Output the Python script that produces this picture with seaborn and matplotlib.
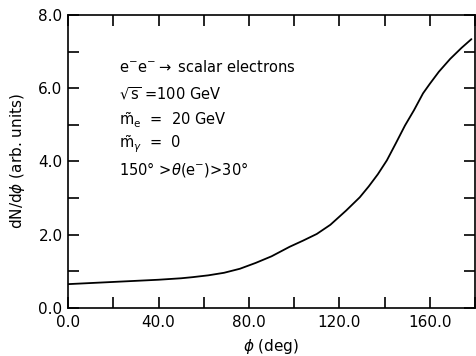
import numpy as np
import pandas as pd
import matplotlib
matplotlib.use("Agg")
import matplotlib.pyplot as plt
import seaborn as sns
from matplotlib.ticker import MultipleLocator, FormatStrFormatter

sns.set_theme(style="ticks")
plt.rcParams['font.family'] = ['DejaVu Sans']
plt.rcParams['mathtext.fontset'] = 'dejavusans'
plt.rcParams['text.color'] = 'black'
plt.rcParams['axes.labelcolor'] = 'black'
plt.rcParams['xtick.color'] = 'black'
plt.rcParams['ytick.color'] = 'black'

# data
phi = [0, 10, 20, 30, 40, 50, 55, 62, 69, 76, 83, 90, 98, 104, 110, 116, 123,
       129, 133, 137, 141, 145, 149, 153, 157, 160, 164, 169, 174, 178.4]
dn_dphi = [0.65, 0.68, 0.71, 0.74, 0.77, 0.81, 0.84, 0.89, 0.96, 1.07, 1.23, 1.41, 1.67, 1.84, 2.02, 2.27, 2.66,
           3.02, 3.32, 3.65, 4.03, 4.50, 4.98, 5.40, 5.86, 6.12, 6.45, 6.80, 7.10, 7.34]

df = pd.DataFrame({'phi': phi, 'dN': dn_dphi})

fig = plt.figure(figsize=(4.76, 3.56), dpi=100)
ax = fig.add_axes([0.143, 0.135, 0.855, 0.823])
sns.lineplot(data=df, x='phi', y='dN', color='black', linewidth=1.3, ax=ax)

ax.set_xlim(0, 180)
ax.set_ylim(0, 8)
ax.xaxis.set_major_locator(MultipleLocator(40))
ax.xaxis.set_minor_locator(MultipleLocator(20))
ax.yaxis.set_major_locator(MultipleLocator(2))
ax.yaxis.set_minor_locator(MultipleLocator(1))
ax.xaxis.set_major_formatter(FormatStrFormatter('%.1f'))
ax.yaxis.set_major_formatter(FormatStrFormatter('%.1f'))
ax.tick_params(which='both', direction='in', top=True, right=True,
               length=8, width=1.2, labelsize=11, color='black')
ax.tick_params(axis='x', pad=5)
ax.tick_params(axis='y', pad=4)
for s in ax.spines.values():
    s.set_color('black')
    s.set_linewidth(1.2)

ax.set_xlabel(r'$\phi$ (deg)', fontsize=11, labelpad=5)
ax.set_ylabel(r'dN/d$\phi$ (arb. units)', fontsize=11, labelpad=8)

fs = 10.5
ax.text(0.125, 0.805, r'e$^{-}$e$^{-}$$\rightarrow$ scalar electrons', transform=ax.transAxes, fontsize=fs)
ax.text(0.125, 0.71, r'$\sqrt{\rm s}$ =100 GeV', transform=ax.transAxes, fontsize=fs)
ax.text(0.125, 0.625, r'$\tilde{\rm m}_{\rm e}$  =  20 GeV', transform=ax.transAxes, fontsize=fs)
ax.text(0.125, 0.545, r'$\tilde{\rm m}_{\gamma}$  =  0', transform=ax.transAxes, fontsize=fs)
ax.text(0.125, 0.455, r'150° >$\theta$(e$^{-}$)>30°', transform=ax.transAxes, fontsize=fs)

fig.savefig('out.png', dpi=100)
